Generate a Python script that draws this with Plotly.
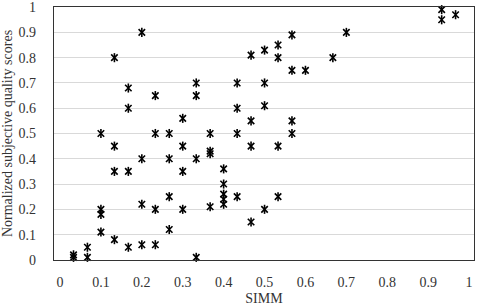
import plotly.graph_objects as go

simm = [0.933, 0.933, 0.967,
        0.2, 0.7, 0.567,
        0.533, 0.5, 0.467,
        0.133, 0.533, 0.667,
        0.567, 0.6,
        0.333, 0.433, 0.5,
        0.167, 0.233, 0.333,
        0.5, 0.167, 0.433,
        0.3, 0.467, 0.567,
        0.1, 0.233, 0.267, 0.367, 0.433, 0.567,
        0.133, 0.3, 0.467, 0.533,
        0.367, 0.367,
        0.2, 0.267, 0.333,
        0.4,
        0.133, 0.167, 0.3,
        0.4,
        0.267, 0.4, 0.433, 0.533,
        0.4, 0.2, 0.4,
        0.367,
        0.1, 0.233, 0.3, 0.5,
        0.1,
        0.467,
        0.267, 0.1,
        0.133,
        0.2, 0.233,
        0.167, 0.067,
        0.033, 0.033, 0.067, 0.333]

scores = [0.99, 0.95, 0.97,
          0.9, 0.9, 0.89,
          0.85, 0.83, 0.81,
          0.8, 0.8, 0.8,
          0.75, 0.75,
          0.7, 0.7, 0.7,
          0.68, 0.65, 0.65,
          0.61, 0.6, 0.6,
          0.56, 0.55, 0.55,
          0.5, 0.5, 0.5, 0.5, 0.5, 0.5,
          0.45, 0.45, 0.45, 0.45,
          0.43, 0.42,
          0.4, 0.4, 0.4,
          0.36,
          0.35, 0.35, 0.35,
          0.3,
          0.25, 0.26, 0.25, 0.25,
          0.24, 0.22, 0.22,
          0.21,
          0.2, 0.2, 0.2, 0.2,
          0.18,
          0.15,
          0.12, 0.11,
          0.08,
          0.06, 0.06,
          0.05, 0.05,
          0.02, 0.01, 0.01, 0.01]

tick_vals = [0, 0.1, 0.2, 0.3, 0.4, 0.5, 0.6, 0.7, 0.8, 0.9, 1]
tick_text = ["0", "0.1", "0.2", "0.3", "0.4", "0.5", "0.6", "0.7", "0.8", "0.9", "1"]

font = dict(family="Liberation Serif", size=14, color="#333")

fig = go.Figure()
for sym in ["x-thin-open", "line-ns-open"]:
    fig.add_trace(go.Scatter(
        x=simm, y=scores, mode="markers",
        marker=dict(symbol=sym, size=6.5, color="black",
                    line=dict(color="black", width=1.6)),
        showlegend=False, hoverinfo="skip", cliponaxis=False))

fig.update_layout(
    width=480, height=307,
    margin=dict(l=54, r=6, t=7, b=47, autoexpand=False),
    plot_bgcolor="white", paper_bgcolor="white",
    font=font,
)
fig.update_xaxes(
    range=[-0.0147, 1.012], tickvals=tick_vals, ticktext=tick_text,
    showgrid=False, zeroline=False, automargin=False,
    showline=True, linecolor="#333", linewidth=1.2, mirror=True,
    ticks="", ticklabelstandoff=9,
    title=dict(text="SIMM", font=font, standoff=4),
)
fig.update_yaxes(
    range=[-0.0005, 1.0005], tickvals=tick_vals, ticktext=tick_text,
    showgrid=True, gridcolor="#d9d9d9", gridwidth=1, zeroline=False, automargin=False,
    showline=True, linecolor="#333", linewidth=1.2, mirror=True,
    ticks="", ticklabelstandoff=14,
    title=dict(text="Normalized subjective quality scores", font=font, standoff=4),
)

fig.write_html("out.html", config={"displayModeBar": False},
               post_script="document.body.style.margin='0';")
